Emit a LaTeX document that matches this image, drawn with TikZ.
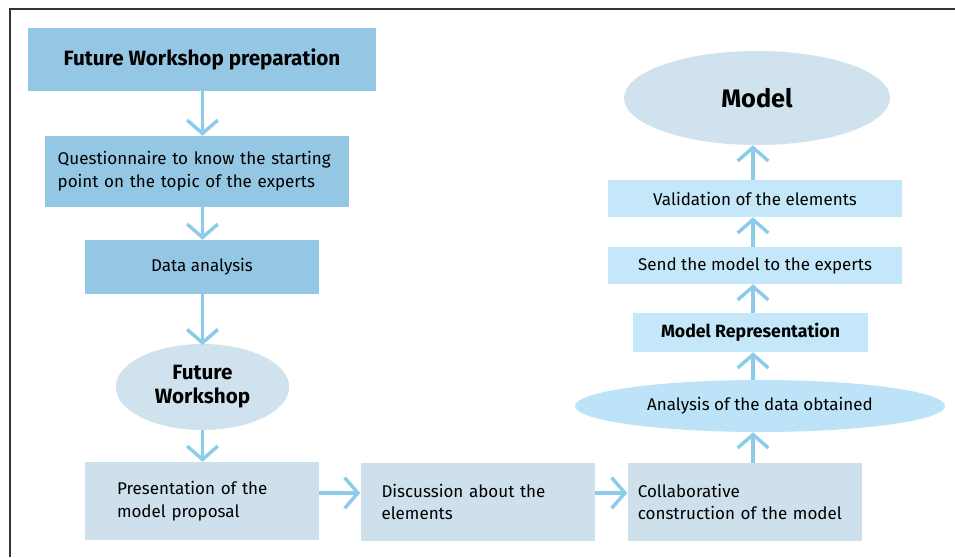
\documentclass[tikz,border=0pt]{standalone}
\usepackage{fontspec}
\setmainfont{Fira Sans}
\usetikzlibrary{arrows.meta, shapes.geometric}

\definecolor{darkbox}{HTML}{94C7E3}
\definecolor{greybox}{HTML}{CDE0EC}
\definecolor{lightbox}{HTML}{C4E8F9}
\definecolor{ovalgrey}{HTML}{CFE2EE}
\definecolor{ovalblue}{HTML}{BCE3F7}
\definecolor{arrowblue}{HTML}{8DCBEA}

\begin{document}
\begin{tikzpicture}[x=0.75pt, y=-0.75pt]
    \tikzstyle{b}=[rectangle, inner sep=0pt, font=\fontsize{12.75}{17}\selectfont]
    \tikzstyle{o}=[ellipse, inner sep=0pt, font=\fontsize{12.75}{17}\selectfont]
    \tikzstyle{low}=[b, fill=greybox, minimum width=175.5pt, minimum height=58.5pt, align=left]
    \tikzstyle{e}=[-{Straight Barb[length=10pt, width=23pt, line width=2.6pt]}, line width=2.6pt, arrowblue]

    \useasboundingbox (0,0) rectangle (955,557);
    % frame
    \draw[line width=1.2pt, black!80] (10,557) -- (10,9) -- (955,9);

    % left column
    \node[b, fill=darkbox, minimum width=261pt, minimum height=47.25pt,
          font=\fontsize{15.5}{18}\selectfont\bfseries] (prep) at (202,59.5) {Future Workshop preparation};
    \node[b, fill=darkbox, minimum width=228pt, minimum height=53.25pt,
          text width=209pt, inner xsep=9.5pt, align=left] (quest) at (197,171.5)
          {Questionnaire to know the starting\\point on the topic of the experts};
    \node[b, fill=darkbox, minimum width=175.5pt, minimum height=40.5pt] (data) at (202,267) {Data analysis};
    \node[o, fill=ovalgrey, minimum width=130pt, minimum height=64.5pt, align=center,
          font=\fontsize{15.5}{18}\selectfont\bfseries] (fw) at (202.5,387) {Future\\Workshop};

    % bottom row
    \node[low, text width=127.5pt, inner xsep=24pt] (pres) at (202,501) {Presentation of the\\model proposal};
    \node[low, text width=144pt, inner xsep=15.75pt] (disc) at (477.5,502) {Discussion about the\\elements};
    \node[low, text width=160pt, inner xsep=7.75pt] (collab) at (744.5,502) {Collaborative\\construction of the model};

    % right column
    \node[o, fill=ovalblue, minimum width=277.5pt, minimum height=39pt] (anal) at (760,406) {Analysis of the data obtained};
    \node[b, fill=lightbox, minimum width=176.25pt, minimum height=29.25pt,
          font=\fontsize{13.3}{15}\selectfont\bfseries] (rep) at (750.5,332.5) {Model Representation};
    \node[b, fill=lightbox, minimum width=220.5pt, minimum height=27.75pt] (send) at (755,265.5) {Send the model to the experts};
    \node[b, fill=lightbox, minimum width=220.5pt, minimum height=27.75pt] (valid) at (755,198.5) {Validation of the elements};
    \node[o, fill=ovalgrey, minimum width=199.5pt, minimum height=70.5pt,
          font=\fontsize{19}{22}\selectfont\bfseries] (model) at (757,98) {Model};

    % connectors
    \draw[e] (prep.south -| fw) -- (quest.north -| fw);
    \draw[e] (quest.south -| fw) -- (data.north -| fw);
    \draw[e] (data.south -| fw) -- ([yshift=-1pt]fw.north);
    \draw[e] (fw.south) -- (pres.north -| fw);
    \draw[e] (pres.east |- 0,493) -- (disc.west |- 0,493);
    \draw[e] (disc.east |- 0,493) -- (collab.west |- 0,493);
    \draw[e] (collab.north -| 753,0) -- (anal.south -| 753,0);
    \draw[e] (anal.north -| 753,0) -- (rep.south -| 753,0);
    \draw[e] (rep.north -| 753,0) -- (send.south -| 753,0);
    \draw[e] (send.north -| 753,0) -- (valid.south -| 753,0);
    \draw[e] (valid.north -| 753,0) -- (model.south -| 753,0);
\end{tikzpicture}
\end{document}
